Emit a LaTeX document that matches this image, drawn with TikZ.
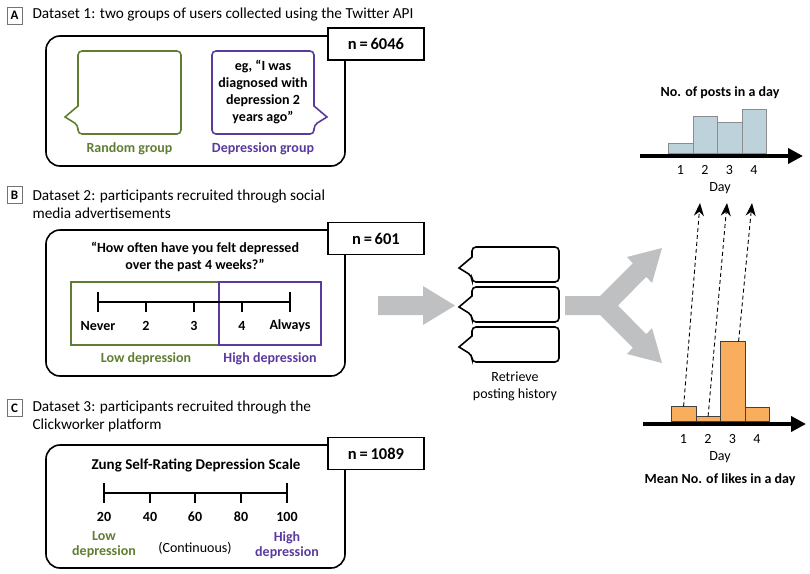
\documentclass[tikz,border=0pt]{standalone}
\usepackage{fontspec}
\setmainfont{Carlito}
\usepackage{tikz}
\usetikzlibrary{positioning, calc, arrows.meta}

\definecolor{grn}{RGB}{96,126,50}
\definecolor{prp}{RGB}{90,58,158}
\definecolor{arrgray}{RGB}{190,192,194}
\definecolor{postblue}{RGB}{190,210,220}
\definecolor{likeorange}{RGB}{249,174,94}

% speech bubbles: style, left, top, right, bottom, tail tip y
\newcommand{\lbubble}[6]{%
  \draw[#1, line width=1.6pt, rounded corners=4pt]
    (#2,#3) -- (#4,#3) -- (#4,#5) -- (#2,#5) -- (#2,#6+8)
    [sharp corners] -- (#2-13,#6) -- (#2,#6-11)
    [rounded corners=4pt] -- cycle;}
\newcommand{\rbubble}[6]{%
  \draw[#1, line width=1.6pt, rounded corners=4pt]
    (#4,#3) -- (#2,#3) -- (#2,#5) -- (#4,#5) -- (#4,#6+8)
    [sharp corners] -- (#4+13,#6) -- (#4,#6-11)
    [rounded corners=4pt] -- cycle;}

\tikzset{
  title/.style={anchor=west, align=left, font=\fontsize{15.3}{18}\selectfont},
  letterbox/.style={draw=black!55, line width=0.8pt, minimum width=15pt,
    minimum height=17pt, inner sep=0pt, font=\fontsize{13}{13}\selectfont\bfseries},
  panel/.style={draw, line width=1.6pt, rounded corners=14pt},
  nbox/.style={draw, fill=white, line width=1.6pt, minimum width=96pt,
    minimum height=32pt, font=\fontsize{16.5}{16.5}\selectfont\bfseries},
  boxtext/.style={align=center, font=\fontsize{14}{17}\selectfont\bfseries},
  plain/.style={align=center, font=\fontsize{14}{17}\selectfont},
  scaleline/.style={line width=1.6pt},
  postbar/.style={draw=black!45, fill=postblue, line width=0.7pt, minimum width=24.5pt,
    inner sep=0pt, anchor=south west},
  likebar/.style={draw=black!75, fill=likeorange, line width=0.7pt, minimum width=24.5pt,
    inner sep=0pt, anchor=south west},
  axis/.style={line width=4.5pt, -{Triangle[length=15pt,width=15pt]}},
  dasharrow/.style={line width=0.9pt, dash pattern=on 4pt off 3pt,
    -{Stealth[length=13pt,width=10pt]}}
}

\begin{document}
\begin{tikzpicture}[x=1pt, y=-1pt]

  \useasboundingbox (0,0) rectangle (810,573);

  % PANEL A

  \node[letterbox] (la) at (14.5,15.5) {A};
  \node[title] (ta) at (29,15) {Dataset 1: two groups of users collected using the Twitter API};
  \draw[panel] (46,36) rectangle (345,166);
  \node[nbox] (na) at (376,44) {n\,=\,6046};

  \lbubble{grn}{78}{51}{181}{134}{117}
  \rbubble{prp}{212}{51}{314}{134}{117}
  \node[boxtext] (quote) at (263,92) {eg, “I was\\diagnosed with\\depression 2\\years ago”};

  \node[boxtext, grn] (rg) at (129.5,149) {Random group};
  \node[boxtext, prp] (dg) at (263,149) {Depression group};

  % PANEL B

  \node[letterbox] (lb) at (14.5,195) {B};
  \node[title] (tb) at (29,204) {Dataset 2: participants recruited through social\\media advertisements};
  \draw[panel] (46,230) rectangle (345,376);
  \node[nbox] (nb) at (376,238.5) {n\,=\,601};

  \node[boxtext] (q) at (195,257) {“How often have you felt depressed\\over the past 4 weeks?”};
  \draw[grn, line width=1.6pt] (71,282) rectangle (219,345);
  \draw[prp, line width=1.6pt] (219,282) rectangle (321,345);

  \draw[scaleline] (98,302) -- (290,302);
  \draw[scaleline] (98,292) -- (98,312) (290,292) -- (290,312);
  \foreach \x in {146,194,242}
    \draw[scaleline] (\x,302) -- (\x,312);
  \foreach \x/\lab in {98/Never,146/2,194/3,242/4,290/Always}
    \node[boxtext] (b\x) at (\x,326) {\lab};

  \node[boxtext, grn] (lowb) at (146,359) {Low depression};
  \node[boxtext, prp] (highb) at (270,359) {High depression};

  % PANEL C

  \node[letterbox] (lc) at (14.5,408) {C};
  \node[title] (tc) at (29,416) {Dataset 3: participants recruited through the\\Clickworker platform};
  \draw[panel] (46,445) rectangle (345,568);
  \node[nbox] (nc) at (376,453.5) {n\,=\,1089};

  \node[boxtext, font=\fontsize{15}{17}\selectfont\bfseries] (zung) at (196,465) {Zung Self-Rating Depression Scale};
  \draw[scaleline] (104,493) -- (287,493);
  \draw[scaleline] (104,483) -- (104,503) (287,483) -- (287,503);
  \foreach \x in {150,195,241}
    \draw[scaleline] (\x,493) -- (\x,503);
  \foreach \x/\lab in {104/20,150/40,195/60,241/80,287/100}
    \node[boxtext] (c\x) at (\x,517) {\lab};

  \node[boxtext, grn, font=\fontsize{14}{15}\selectfont\bfseries] (lowc) at (104,545) {Low\\depression};
  \node[plain] (cont) at (195,548) {(Continuous)};
  \node[boxtext, prp, font=\fontsize{14}{15}\selectfont\bfseries] (highc) at (287,545) {High\\depression};

  % RETRIEVE

  \fill[arrgray] (378,296) -- (423,296) -- (423,286) -- (455,305.5)
    -- (423,325) -- (423,315) -- (378,315) -- cycle;

  \lbubble{black}{472}{247}{559}{282}{268}
  \lbubble{black}{472}{287}{559}{322}{307}
  \lbubble{black}{472}{327}{559}{362}{347}
  \node[plain] (ret) at (515,386.5) {Retrieve\\posting history};

  \fill[arrgray] (565,315) -- (565,296) -- (600,296) -- (632.75,263.25)
    -- (627,257) -- (662,248) -- (652,283) -- (646.25,276.75)
    -- (618,305.5) -- (646.25,334.25) -- (652,328) -- (662,363)
    -- (627,354) -- (632.75,347.75) -- (600,315) -- cycle;

  % POSTS CHART

  \node[boxtext] (pt) at (720,93) {No. of posts in a day};
  \foreach \i/\l/\h in {1/668/10,2/692.5/37,3/717/31,4/741.5/44}
    \node[postbar, minimum height=\h] (pb\i) at (\l,154) {};
  \draw[axis] (640,156) -- (803,156);
  \foreach \i/\x in {1/680.5,2/705,3/729.5,4/754}
    \node[plain] (pd\i) at (\x,170) {\i};
  \node[plain] (pday) at (720,188) {Day};

  % LIKES CHART

  \foreach \i/\l/\h in {1/671/15,2/695.5/5,3/720/80,4/744.5/14}
    \node[likebar, minimum height=\h] (lb\i) at (\l,422) {};
  \draw[axis] (643,424) -- (806,424);
  \foreach \i/\x in {1/683.5,2/708,3/732.5,4/757}
    \node[plain] (ld\i) at (\x,439) {\i};
  \node[plain] (lday) at (720,457) {Day};
  \node[boxtext] (lt) at (720,480) {Mean No. of likes in a day};

  % LINKS

  \coordinate (up1) at (700,203);
  \coordinate (up2) at (727,203);
  \coordinate (up3) at (752,203);
  \draw[dasharrow] (lb1.north) -- (up1);
  \draw[dasharrow] (lb2.north) -- (up2);
  \draw[dasharrow] ($(lb3.north)+(6,0)$) -- (up3);

\end{tikzpicture}
\end{document}
